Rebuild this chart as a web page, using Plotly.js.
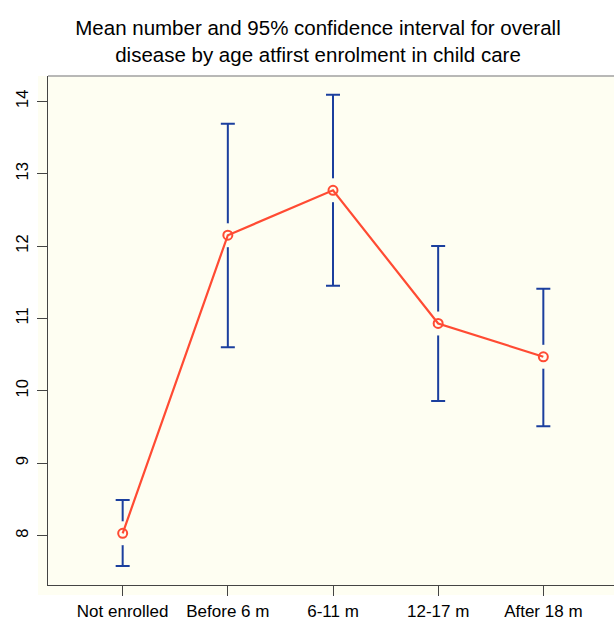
<!DOCTYPE html>
<html>
<head>
<meta charset="utf-8">
<script src="https://cdn.plot.ly/plotly-3.0.1.min.js"></script>
<style>html,body{margin:0;padding:0;background:#fff;}#chart{width:614px;height:621px;}</style>
</head>
<body>
<div id="chart"></div>
<script>
const categories = ["Not enrolled", "Before 6 m", "6-11 m", "12-17 m", "After 18 m"];
const positions = [1, 2, 3, 4, 5];
const meanValues = [8.03, 12.15, 12.77, 10.93, 10.47];
const lowerCI = [7.58, 10.60, 11.45, 9.86, 9.51];
const upperCI = [8.49, 13.69, 14.09, 12.00, 11.41];
const yTicks = [8, 9, 10, 11, 12, 13, 14];

const bg = "#fefef2";
const errPlus = upperCI.map((u, i) => u - meanValues[i]);
const errMinus = lowerCI.map((l, i) => meanValues[i] - l);

const traces = [
  {
    x: positions, y: meanValues, type: "scatter", mode: "markers",
    marker: {color: bg, size: 24, line: {width: 0}},
    error_y: {type: "data", symmetric: false, array: errPlus, arrayminus: errMinus,
              color: "#1b3f9e", thickness: 2, width: 7},
    hoverinfo: "skip", showlegend: false
  },
  {
    x: positions, y: meanValues, type: "scatter", mode: "lines+markers",
    line: {color: "#ff4b33", width: 2.2},
    marker: {symbol: "circle-open", size: 9, color: "#ff4b33", line: {width: 2, color: "#ff4b33"}},
    showlegend: false
  }
];

const layout = {
  width: 614, height: 621,
  margin: {l: 48, r: 0, t: 76, b: 36},
  paper_bgcolor: "#ffffff",
  plot_bgcolor: bg,
  font: {family: "Liberation Sans, Arial, Helvetica, sans-serif", color: "#000"},
  title: {
    text: "Mean number and 95% confidence interval for overall<br>disease by age atfirst enrolment in child care",
    font: {size: 20.5, color: "#000", family: "Liberation Sans, Arial, sans-serif"},
    x: 318 / 614, xanchor: "center", xref: "container",
    y: 1 - 35 / 621, yanchor: "top", yref: "container"
  },
  xaxis: {
    range: [0.29, 5.672], tickvals: positions, ticktext: categories,
    showgrid: false, zeroline: false, showline: true, linecolor: "#444", linewidth: 1.3,
    ticks: "outside", ticklen: 10, tickcolor: "#444", tickwidth: 1,
    ticklabelstandoff: 0,
    tickfont: {size: 17, color: "#000"}, fixedrange: true
  },
  yaxis: {
    range: [7.316, 14.35], tickvals: yTicks,
    showgrid: false, zeroline: false, showline: true, linecolor: "#444", linewidth: 1.3,
    ticks: "outside", ticklen: 10, tickcolor: "#444", tickwidth: 1,
    tickangle: -90, ticklabelstandoff: 2,
    tickfont: {size: 16.5, color: "#000"}, fixedrange: true
  },
  shapes: [
    {type: "rect", xref: "paper", yref: "paper", x0: -10 / 566, x1: 1, y0: -10 / 509, y1: 1,
     fillcolor: bg, line: {width: 0}, layer: "below"},
    {type: "line", xref: "paper", yref: "paper", x0: 0, x1: 1, y0: 1, y1: 1,
     line: {color: "#a0a0a0", width: 1.3}}
  ]
};

Plotly.newPlot("chart", traces, layout, {displayModeBar: false, staticPlot: true});
</script>
</body>
</html>
